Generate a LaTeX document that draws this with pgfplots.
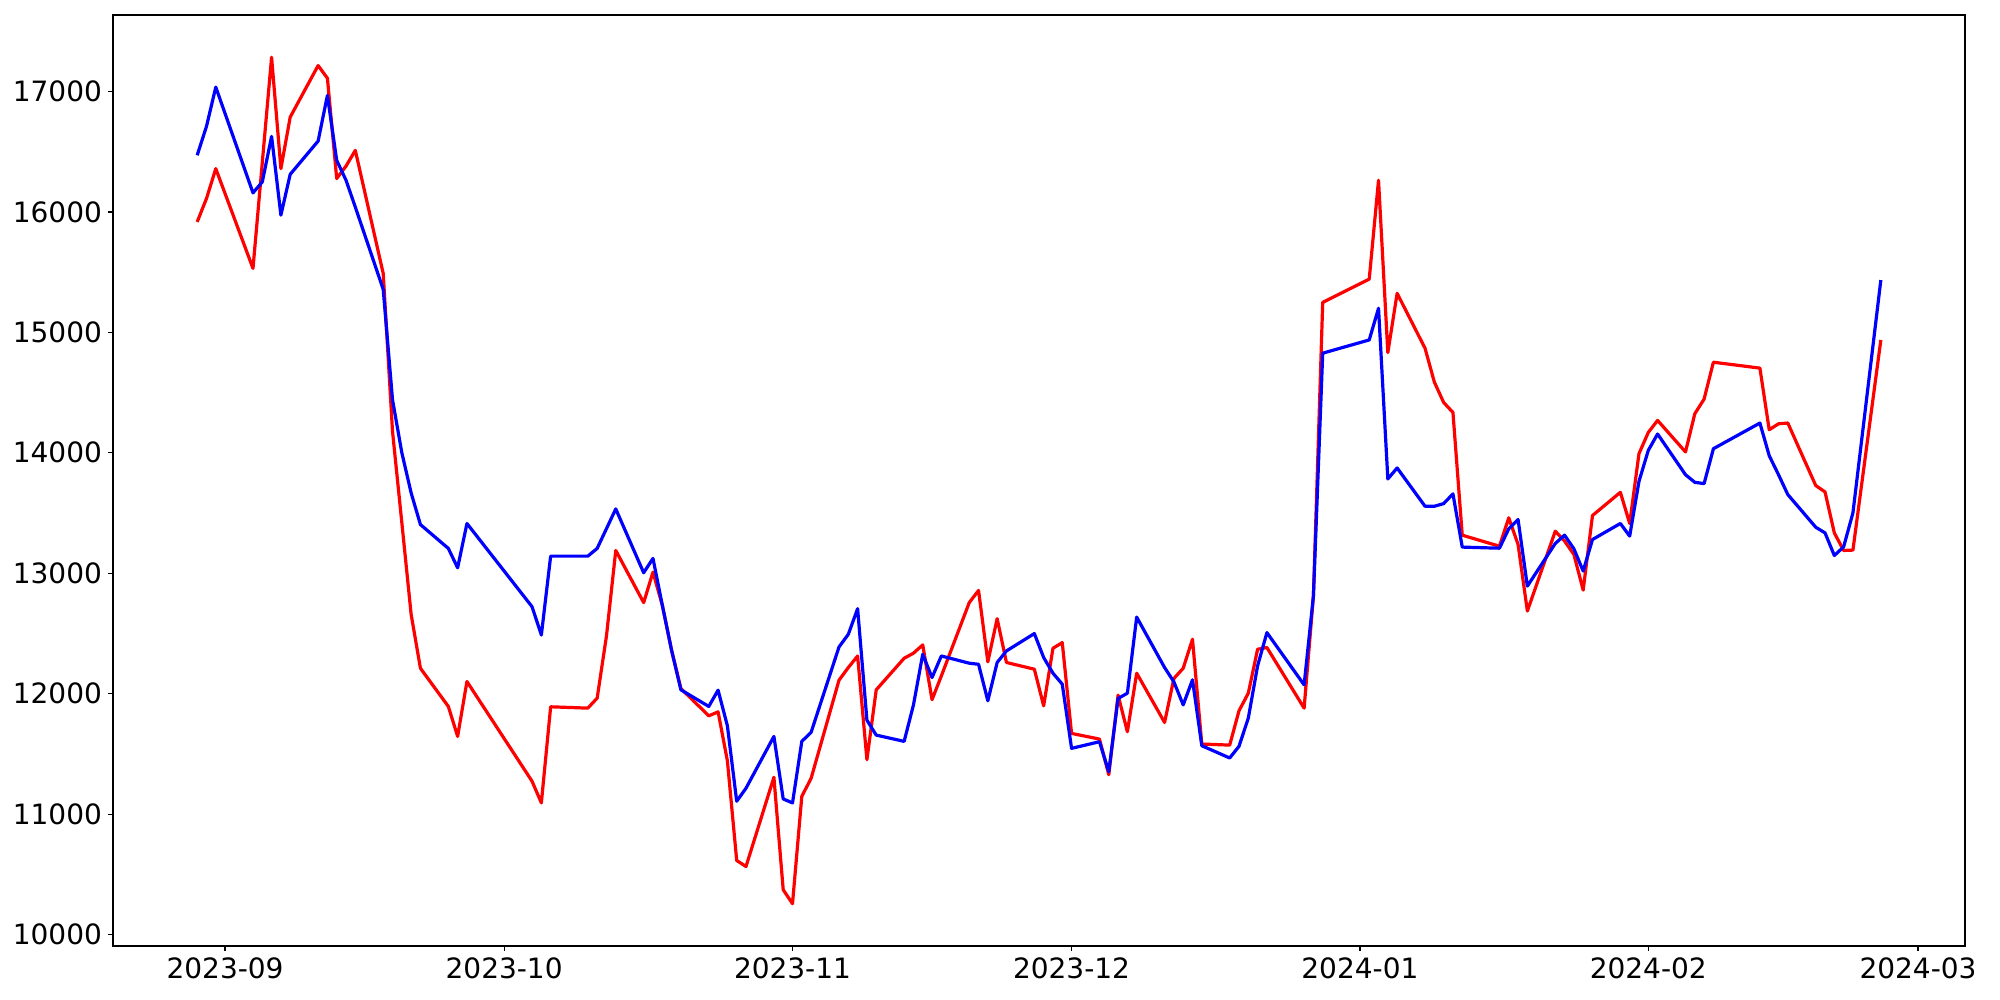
\documentclass[border=0pt]{standalone}
\usepackage{fontspec}
\setmainfont{DejaVu Sans}
\usepackage{pgfplots}
\pgfplotsset{compat=1.18}
\usepackage{pgfplotstable}
\pgfplotstableread{
d r b
-3 15917 16470
-2 16111 16710
-1 16359 17036
3 15531 16158
4 16410 16249
5 17284 16627
6 16359 15973
7 16787 16312
10 17215 16588
11 17110 16967
12 16277 16428
13 16380 16263
14 16511 16040
17 15489 15357
18 14177 14440
19 13421 14001
20 12659 13667
21 12211 13404
24 11894 13206
25 11645 13045
26 12101 13413
33 11273 12722
34 11093 12487
35 11891 13142
39 11880 13142
40 11963 13206
41 12479 13370
42 13189 13534
45 12756 13004
46 13009 13123
47 12736 12736
48 12360 12360
49 12043 12032
52 11816 11894
53 11849 12029
54 11443 11733
55 10615 11107
56 10565 11215
59 11306 11645
60 10372 11126
61 10256 11093
62 11148 11604
63 11297 11679
66 12112 12388
67 12217 12493
68 12313 12706
69 11452 11780
70 12032 11656
73 12294 11604
74 12336 11905
75 12405 12327
76 11950 12134
77 12147 12313
80 12756 12253
81 12857 12244
82 12264 11941
83 12623 12259
84 12259 12355
87 12203 12499
88 11899 12300
89 12377 12170
90 12424 12079
91 11670 11546
94 11623 11601
95 11327 11352
96 11988 11960
97 11684 12004
98 12170 12636
101 11761 12217
102 12126 12098
103 12211 11907
104 12452 12115
105 11582 11568
108 11573 11466
109 11858 11563
110 12004 11797
111 12369 12231
112 12383 12507
116 11880 12073
117 12810 12810
118 15249 14827
123 15442 14937
124 16263 15200
125 14832 13783
126 15324 13874
129 14868 13556
130 14587 13556
131 14418 13578
132 14335 13659
133 13316 13217
136 13247 13210
137 13225 13208
138 13460 13369
139 13239 13446
140 12686 12893
143 13349 13247
144 13267 13316
145 13156 13203
146 12860 13018
147 13479 13280
150 13672 13413
151 13413 13308
152 13993 13763
153 14169 14020
154 14269 14156
157 14007 13818
158 14324 13755
159 14446 13744
160 14752 14034
165 14703 14247
166 14191 13976
167 14241 13818
168 14247 13653
171 13728 13382
172 13675 13335
173 13335 13147
174 13189 13219
175 13192 13501
178 14937 15434
}\data
\begin{document}
\begin{tikzpicture}
\path[use as bounding box] (-56.5pt,-27pt) rectangle (943.5pt,473pt);
\begin{axis}[
  at={(0,0)}, anchor=south west,
  scale only axis, width=926pt, height=465.5pt,
  xmin=-12.05, xmax=187.05, ymin=9905, ymax=17635,
  xtick={0,30,61,91,122,153,182},
  xticklabels={2023-09,2023-10,2023-11,2023-12,2024-01,2024-02,2024-03},
  ytick={10000,11000,12000,13000,14000,15000,16000,17000},
  scaled y ticks=false,
  yticklabel style={/pgf/number format/.cd,1000 sep={},assume math mode=true},
  tick label style={font=\fontsize{14}{16}\selectfont},
  tick align=outside, major tick length=2.5pt,
  xtick pos=bottom, ytick pos=left,
  axis line style={line width=0.6pt},
  every tick/.style={line width=0.6pt, black},
  xticklabel shift=0pt, yticklabel shift=-0.5pt,
  axis background/.style={fill=white},
]
\addplot[red, line width=1.6pt, line join=round] table[x=d,y=r]{\data};
\addplot[blue, line width=1.6pt, line join=round] table[x=d,y=b]{\data};
\end{axis}
\end{tikzpicture}
\end{document}
